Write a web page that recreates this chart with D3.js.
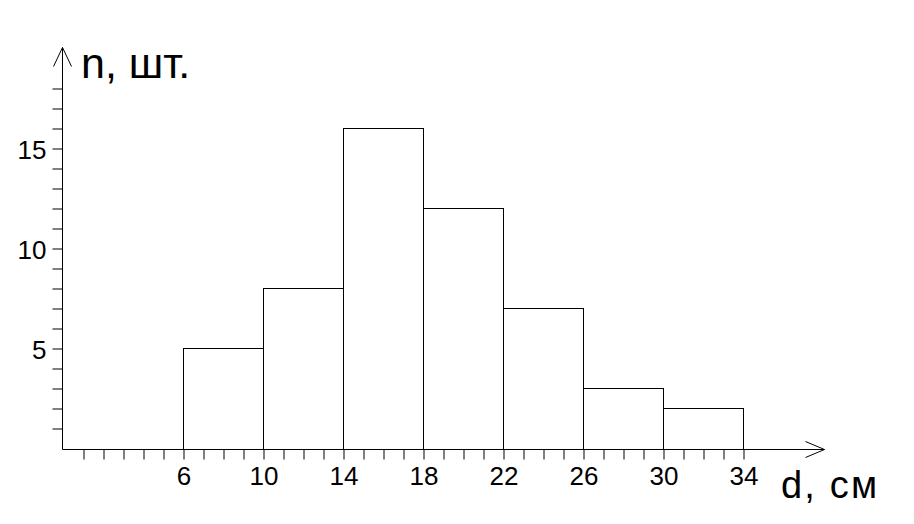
<!DOCTYPE html>
<html>
<head>
<meta charset="utf-8">
<script src="https://cdn.jsdelivr.net/npm/d3@7"></script>
<style>
  html, body { margin: 0; padding: 0; background: #fff; }
  svg { display: block; }
  text { font-family: "Liberation Sans", Arial, sans-serif; fill: #000; }
</style>
</head>
<body>
<script>
// Data
const binStarts = [6, 10, 14, 18, 22, 26, 30];
const binEnds   = [10, 14, 18, 22, 26, 30, 34];
const counts    = [5, 8, 16, 12, 7, 3, 2];
const xTickLabels = [6, 10, 14, 18, 22, 26, 30, 34];
const yTickLabels = [5, 10, 15];
const xLabel = "d, см";
const yLabel = "n, шт.";

const W = 914, H = 524;
const svg = d3.select("body").append("svg").attr("width", W).attr("height", H);

const x = d3.scaleLinear().domain([0, 34]).range([63.5, 743.5]);
const y = d3.scaleLinear().domain([0, 18]).range([448.5, 88.5]);

const axisX = x(0) - 1;   // vertical axis line position
const axisY = y(0) + 1;   // horizontal axis line position

// Bars
const bars = binStarts.map((s, i) => ({ s, e: binEnds[i], n: counts[i] }));
svg.append("g").selectAll("rect").data(bars).join("rect")
  .attr("x", d => x(d.s))
  .attr("y", d => y(d.n))
  .attr("width", d => x(d.e) - x(d.s))
  .attr("height", d => axisY - y(d.n))
  .attr("fill", "#fff")
  .attr("stroke", "#000")
  .attr("stroke-width", 1);

// X axis ticks
const xTicks = d3.range(1, 35);
const gx = svg.append("g").attr("transform", `translate(0,${axisY})`)
  .call(d3.axisBottom(x).tickValues(xTicks).tickSize(10).tickPadding(7)
    .tickFormat(d => xTickLabels.includes(d) ? d : ""));
gx.select(".domain").remove();
gx.selectAll("line").attr("stroke", "#000");
gx.selectAll("text").attr("font-size", 26).attr("font-family", "Liberation Sans, Arial, sans-serif");

// Y axis ticks
const yTicks = d3.range(1, 19);
const gy = svg.append("g").attr("transform", `translate(${axisX},0)`)
  .call(d3.axisLeft(y).tickValues(yTicks).tickSize(10).tickPadding(6)
    .tickFormat(d => yTickLabels.includes(d) ? d : ""));
gy.select(".domain").remove();
gy.selectAll("line").attr("stroke", "#000");
gy.selectAll("text").attr("font-size", 26).attr("font-family", "Liberation Sans, Arial, sans-serif").attr("dy", "0.38em");

// Axis lines with open arrowheads
const xEnd = 824.5, yEnd = 47.5;
svg.append("line").attr("x1", axisX).attr("y1", axisY).attr("x2", xEnd).attr("y2", axisY)
  .attr("stroke", "#000");
svg.append("line").attr("x1", axisX).attr("y1", axisY).attr("x2", axisX).attr("y2", yEnd)
  .attr("stroke", "#000");
svg.append("path")
  .attr("d", `M${xEnd - 19},${axisY - 8}L${xEnd},${axisY}L${xEnd - 19},${axisY + 8}`)
  .attr("fill", "none").attr("stroke", "#000");
svg.append("path")
  .attr("d", `M${axisX - 9},${yEnd + 19}L${axisX},${yEnd}L${axisX + 9},${yEnd + 19}`)
  .attr("fill", "none").attr("stroke", "#000");

// Axis titles
svg.append("text").attr("x", 81).attr("y", 77.5).attr("font-size", 43).text(yLabel);
svg.append("text").attr("x", 781).attr("y", 497.5).attr("font-size", 38)
  .attr("textLength", 96).attr("lengthAdjust", "spacing").text(xLabel);
</script>
</body>
</html>
